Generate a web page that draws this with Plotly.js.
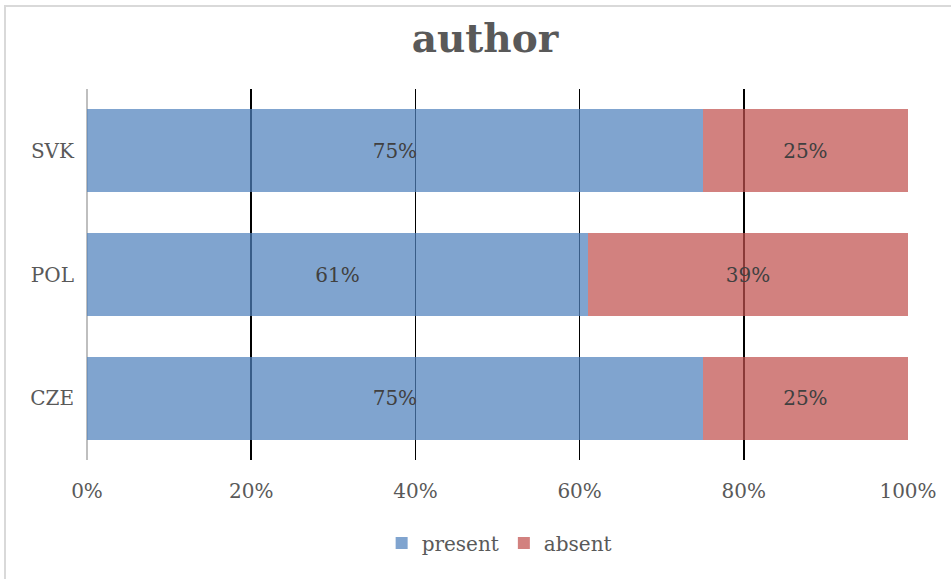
<!DOCTYPE html>
<html>
<head>
<meta charset="utf-8">
<script src="https://cdn.plot.ly/plotly-3.0.1.min.js"></script>
<style>
  html, body { margin: 0; padding: 0; background: #ffffff; }
  #wrap { position: relative; width: 951px; height: 579px; overflow: hidden; }
  #chart { position: absolute; left: 0; top: 0; width: 951px; height: 579px; }
  #frame {
    position: absolute; left: 4px; top: 5px; width: 960px; height: 600px;
    border-top: 2px solid #d9d9d9; border-left: 2px solid #d9d9d9;
    pointer-events: none; box-sizing: border-box;
  }
</style>
</head>
<body>
<div id="wrap">
  <div id="chart"></div>
  <div id="frame"></div>
</div>
<script>
// Share of "author" present / absent per country (percent)
const countries = ['CZE', 'POL', 'SVK'];
const present = [75, 61, 75];
const absent = [25, 39, 25];
const xTicks = [0, 20, 40, 60, 80, 100];

const serif = '"DejaVu Serif", "Liberation Serif", serif';
const pct = v => v + '%';

const traces = [
  {
    type: 'bar', orientation: 'h', name: 'present',
    y: countries, x: present,
    text: present.map(pct), textposition: 'inside', insidetextanchor: 'middle',
    textfont: { family: serif, size: 20, color: '#404040' },
    marker: { color: 'rgba(79,129,189,0.72)', line: { width: 0 } },
    hoverinfo: 'none'
  },
  {
    type: 'bar', orientation: 'h', name: 'absent',
    y: countries, x: absent,
    text: absent.map(pct), textposition: 'inside', insidetextanchor: 'middle',
    textfont: { family: serif, size: 20, color: '#404040' },
    marker: { color: 'rgba(192,80,77,0.72)', line: { width: 0 } },
    hoverinfo: 'none'
  }
];

const layout = {
  width: 951, height: 579,
  paper_bgcolor: '#ffffff', plot_bgcolor: '#ffffff',
  margin: { l: 87, r: 43, t: 89, b: 119 },
  barmode: 'stack', bargap: 0.33,
  title: {
    text: '<b>author</b>',
    font: { family: serif, size: 39, color: '#595959' },
    x: 0.51, xanchor: 'center', yref: 'container', y: 1 - 38 / 579, yanchor: 'middle'
  },
  xaxis: {
    range: [0, 100], tickvals: xTicks, ticktext: xTicks.map(pct),
    showgrid: true, gridcolor: '#000000', gridwidth: 1.5,
    zeroline: true, zerolinecolor: '#bfbfbf', zerolinewidth: 1.5,
    showline: false, ticks: '', ticklabelstandoff: 17,
    tickfont: { family: serif, size: 20, color: '#595959' },
    fixedrange: true
  },
  yaxis: {
    type: 'category', showgrid: false, zeroline: false, showline: false,
    ticks: '', ticklabelstandoff: 12,
    tickfont: { family: serif, size: 20, color: '#595959' },
    fixedrange: true
  },
  showlegend: true,
  legend: {
    orientation: 'h', xref: 'paper', x: 0.502, xanchor: 'center',
    yref: 'container', y: 1 - 543 / 579, yanchor: 'middle',
    font: { family: serif, size: 20, color: '#595959' },
    itemwidth: 30, traceorder: 'normal'
  }
};

Plotly.newPlot('chart', traces, layout, { displayModeBar: false, staticPlot: true });
</script>
</body>
</html>
